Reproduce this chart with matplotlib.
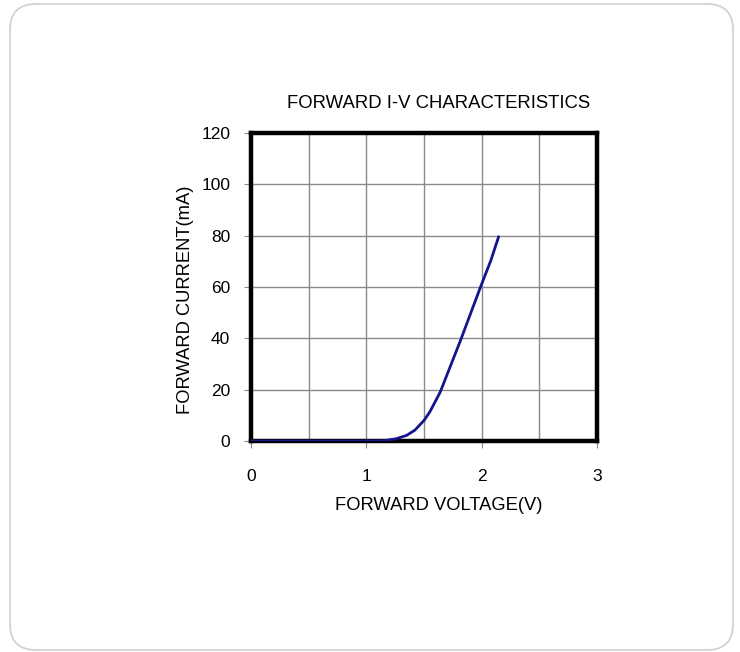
import matplotlib
matplotlib.use("Agg")
import matplotlib.pyplot as plt
from matplotlib.patches import FancyBboxPatch

voltage = [0.0, 0.5, 1.0, 1.15, 1.26, 1.35, 1.42, 1.50, 1.55, 1.64, 1.815, 1.99, 2.08, 2.15]
current = [0.0, 0.0, 0.0, 0.1, 0.9, 2.2, 4.2, 8.0, 11.3, 19.0, 39.0, 60.0, 70.4, 80.0]
x_ticks = [0, 1, 2, 3]
y_ticks = [0, 20, 40, 60, 80, 100, 120]

plt.rcParams['font.family'] = ['Liberation Sans', 'DejaVu Sans']

W, H = 740, 652
fig = plt.figure(figsize=(W / 100, H / 100), dpi=100)

# rounded frame
frame = FancyBboxPatch((10 / W, 1 - 650 / H), 723 / W, 646 / H,
                       boxstyle="round,pad=0,rounding_size=0.035",
                       transform=fig.transFigure, fill=False,
                       edgecolor='#cfcfcf', linewidth=1.2, mutation_aspect=W / H)
fig.patches.append(frame)

ax = fig.add_axes([251 / W, 1 - 441 / H, (597 - 251) / W, (441 - 133) / H])
ax.plot(voltage, current, color='#14148c', linewidth=2.0, solid_capstyle='butt', zorder=3)

ax.set_xlim(0, 3)
ax.set_ylim(0, 120)
ax.set_xticks(x_ticks)
ax.set_xticks([0.5, 1.5, 2.5], minor=True)
ax.set_yticks(y_ticks)
ax.grid(True, which='both', color='#8a8a8a', linewidth=1.0)
ax.tick_params(axis='x', which='major', length=5, width=0.8, color='#888888', pad=15.5, labelsize=12.5)
ax.tick_params(axis='x', which='minor', length=0)
ax.tick_params(axis='y', length=5, width=0.8, color='#888888', pad=10, labelsize=12.5)
for s in ax.spines.values():
    s.set_linewidth(3.2)
    s.set_color('black')

ax.set_xlabel('FORWARD VOLTAGE(V)', fontsize=13.2, va='center')
ax.xaxis.set_label_coords((439 - 251) / 346, (441 - 505) / 308)
ax.set_ylabel('FORWARD CURRENT(mA)', fontsize=13.2, va='center')
ax.yaxis.set_label_coords((186 - 251) / 346, (441 - 300) / 308)
fig.text(439 / W, 1 - 103 / H, 'FORWARD I-V CHARACTERISTICS', fontsize=13.3,
         ha='center', va='center')

fig.savefig('out.png', dpi=100)
